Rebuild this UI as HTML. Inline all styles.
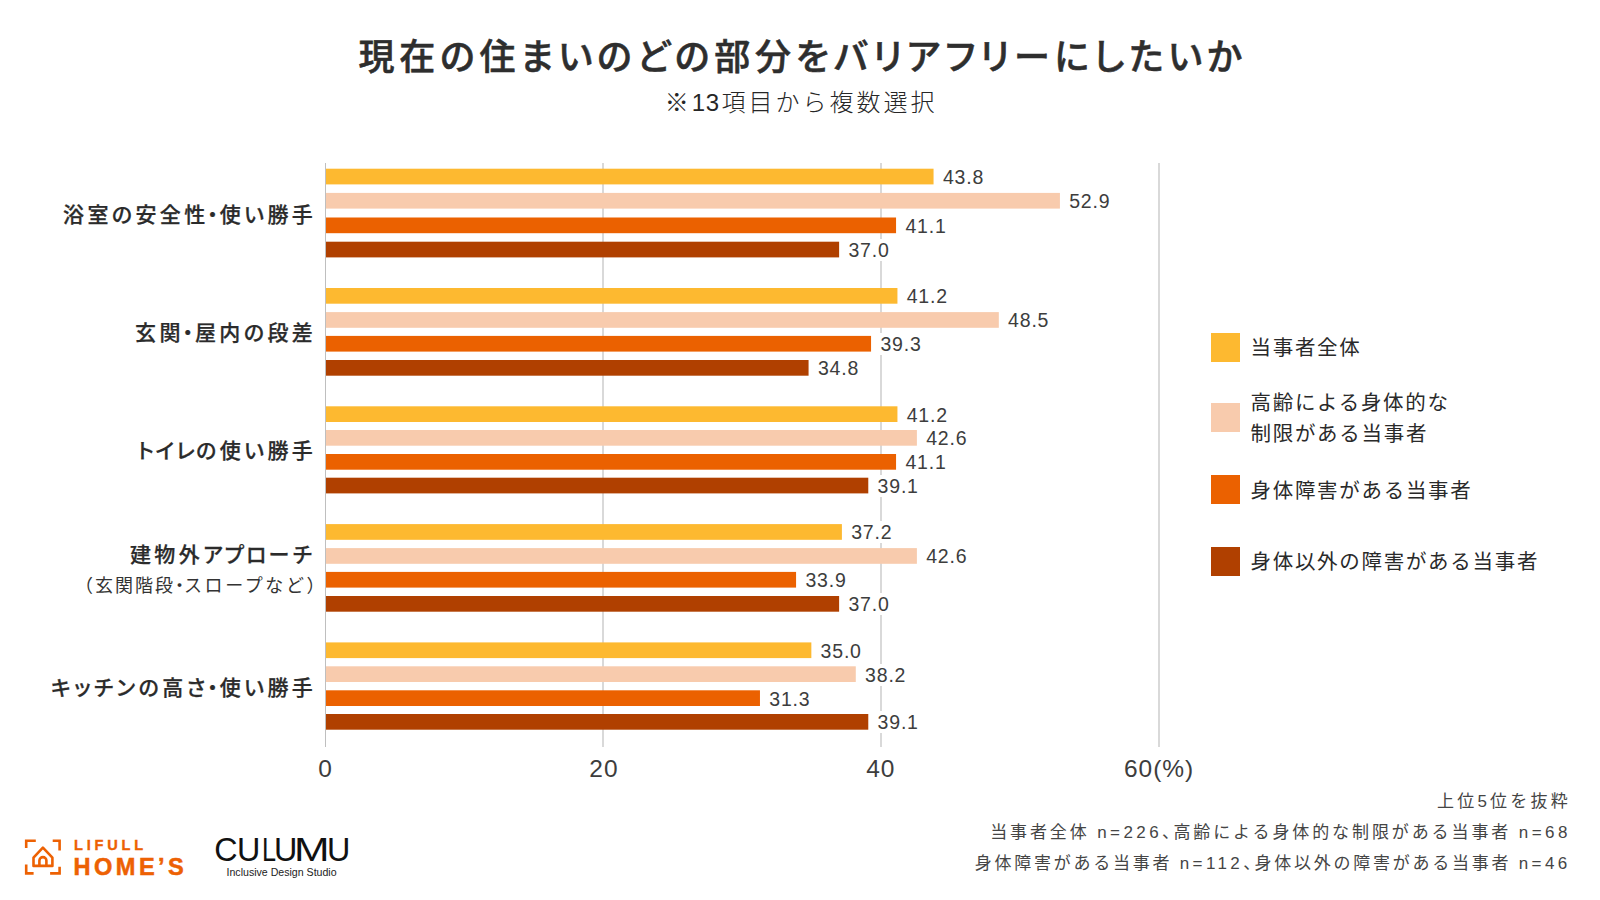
<!DOCTYPE html>
<html lang="ja">
<head>
<meta charset="utf-8">
<title>現在の住まいのどの部分をバリアフリーにしたいか</title>
<style>
html,body{margin:0;padding:0;background:#fff;}
body{width:1600px;height:900px;position:relative;overflow:hidden;color:#333;
 font-family:"Liberation Sans","Noto Sans CJK JP",sans-serif;}
.abs{position:absolute;white-space:nowrap;}
#title{left:2.6px;width:1600px;top:32px;text-align:center;font-size:36px;font-weight:500;color:#2e2e2e;-webkit-text-stroke:0.55px #2e2e2e;letter-spacing:4.78px;line-height:52px;font-feature-settings:"palt";}
#subtitle{left:1.2px;width:1600px;top:86px;text-align:center;font-size:24px;font-weight:300;color:#262626;letter-spacing:3.0px;line-height:34px;}
.grid{position:absolute;top:163px;height:584px;width:2px;background:#d6d6d6;}
.bar{position:absolute;height:15.7px;left:326px;}
.val{position:absolute;height:22px;line-height:22px;font-size:19.5px;font-weight:300;color:#3d3d3d;background:#fff;padding:0 4px 0 0;letter-spacing:0.8px;white-space:nowrap;}
.cat{position:absolute;right:1283.8px;text-align:right;font-size:21px;font-weight:500;color:#2b2b2b;-webkit-text-stroke:0.25px #2b2b2b;letter-spacing:3.4px;line-height:30px;white-space:nowrap;font-feature-settings:"palt";}
.sub{position:absolute;right:1273.5px;text-align:right;font-size:18px;font-weight:400;letter-spacing:2px;line-height:26px;white-space:nowrap;}
.cat .d{margin-left:-1.3px;letter-spacing:1.9px;}
.sub .d{display:inline-block;width:0.5em;text-indent:-0.25em;}
.note .c{margin-right:-0.5em;}
.note .l{letter-spacing:3.4px;}
.tick{position:absolute;top:753px;font-size:24.5px;font-weight:300;color:#3d3d3d;letter-spacing:1px;padding-left:1px;line-height:32px;width:120px;text-align:center;white-space:nowrap;}
#culumu span{position:absolute;top:0;transform-origin:0 50%;}
.sw{position:absolute;left:1211px;width:29px;height:29px;}
.lg{position:absolute;left:1250.5px;font-size:20.5px;font-weight:400;color:#2a2a2a;letter-spacing:1.7px;line-height:31.3px;white-space:nowrap;}
.note{position:absolute;right:29.4px;text-align:right;font-size:17px;font-weight:400;color:#454545;letter-spacing:2.75px;line-height:30px;white-space:nowrap;}
</style>
</head>
<body>
<div id="title" class="abs">現在の住まいのどの部分をバリアフリーにしたいか</div>
<div id="subtitle" class="abs">※<span style="letter-spacing:0.5px;margin-right:2px">13</span>項目から複数選択</div>

<svg class="abs" style="left:0;top:0" width="1600" height="900" viewBox="0 0 1600 900">
<rect x="602" y="163" width="2" height="584" fill="#d9d9d9"/>
<rect x="880" y="163" width="2" height="584" fill="#d9d9d9"/>
<rect x="1158" y="163" width="2" height="584" fill="#d9d9d9"/>
<rect x="325.6" y="168.70" width="607.95" height="15.7" fill="#FDB930"/>
<rect x="325.6" y="192.90" width="734.32" height="15.7" fill="#F8CBAD"/>
<rect x="325.6" y="217.50" width="570.46" height="15.7" fill="#EB6100"/>
<rect x="325.6" y="241.70" width="513.52" height="15.7" fill="#B04000"/>
<rect x="325.6" y="288.00" width="571.84" height="15.7" fill="#FDB930"/>
<rect x="325.6" y="312.10" width="673.22" height="15.7" fill="#F8CBAD"/>
<rect x="325.6" y="335.90" width="545.46" height="15.7" fill="#EB6100"/>
<rect x="325.6" y="360.00" width="482.97" height="15.7" fill="#B04000"/>
<rect x="325.6" y="406.30" width="571.84" height="15.7" fill="#FDB930"/>
<rect x="325.6" y="430.00" width="591.29" height="15.7" fill="#F8CBAD"/>
<rect x="325.6" y="454.00" width="570.46" height="15.7" fill="#EB6100"/>
<rect x="325.6" y="477.70" width="542.68" height="15.7" fill="#B04000"/>
<rect x="325.6" y="524.10" width="516.30" height="15.7" fill="#FDB930"/>
<rect x="325.6" y="548.10" width="591.29" height="15.7" fill="#F8CBAD"/>
<rect x="325.6" y="571.90" width="470.47" height="15.7" fill="#EB6100"/>
<rect x="325.6" y="596.00" width="513.52" height="15.7" fill="#B04000"/>
<rect x="325.6" y="642.40" width="485.75" height="15.7" fill="#FDB930"/>
<rect x="325.6" y="666.30" width="530.18" height="15.7" fill="#F8CBAD"/>
<rect x="325.6" y="690.30" width="434.36" height="15.7" fill="#EB6100"/>
<rect x="325.6" y="714.00" width="542.68" height="15.7" fill="#B04000"/>
<rect x="325" y="163" width="1" height="584" fill="#bfbfbf"/>
</svg>
<div class="val" style="top:165.95px;left:940.9px;padding-left:2px">43.8</div>
<div class="val" style="top:190.15px;left:1067.2px;padding-left:2px">52.9</div>
<div class="val" style="top:214.75px;left:903.4px;padding-left:2px">41.1</div>
<div class="val" style="top:238.95px;left:846.4px;padding-left:2px">37.0</div>
<div class="cat" style="top:199.5px">浴室の安全性<span class="d">・</span>使い勝手</div>
<div class="val" style="top:285.25px;left:904.7px;padding-left:2px">41.2</div>
<div class="val" style="top:309.35px;left:1006.1px;padding-left:2px">48.5</div>
<div class="val" style="top:333.15px;left:878.4px;padding-left:2px">39.3</div>
<div class="val" style="top:357.25px;left:815.9px;padding-left:2px">34.8</div>
<div class="cat" style="top:318.4px">玄関<span class="d">・</span>屋内の段差</div>
<div class="val" style="top:403.55px;left:904.7px;padding-left:2px">41.2</div>
<div class="val" style="top:427.25px;left:924.2px;padding-left:2px">42.6</div>
<div class="val" style="top:451.25px;left:903.4px;padding-left:2px">41.1</div>
<div class="val" style="top:474.95px;left:875.6px;padding-left:2px">39.1</div>
<div class="cat" style="top:436.4px"><span style="letter-spacing:1.5px">ト</span><span style="letter-spacing:2.3px">イ</span><span style="letter-spacing:1.4px">レ</span>の使い勝手</div>
<div class="val" style="top:521.35px;left:849.2px;padding-left:2px">37.2</div>
<div class="val" style="top:545.35px;left:924.2px;padding-left:2px">42.6</div>
<div class="val" style="top:569.15px;left:803.4px;padding-left:2px">33.9</div>
<div class="val" style="top:593.25px;left:846.4px;padding-left:2px">37.0</div>
<div class="cat" style="top:539.9px;margin-right:1px">建物外<span style="letter-spacing:2px">アプロ</span>ーチ</div>
<div class="sub" style="top:572.9px">（玄関階段<span class="d">・</span><span style="letter-spacing:2.6px">スロープなど</span>）</div>
<div class="val" style="top:639.65px;left:818.6px;padding-left:2px">35.0</div>
<div class="val" style="top:663.55px;left:863.1px;padding-left:2px">38.2</div>
<div class="val" style="top:687.55px;left:767.3px;padding-left:2px">31.3</div>
<div class="val" style="top:711.25px;left:875.6px;padding-left:2px">39.1</div>
<div class="cat" style="top:672.6px">キッチンの高さ<span class="d">・</span>使い勝手</div>
<div class="tick" style="left:264.5px">0</div>
<div class="tick" style="left:543.0px">20</div>
<div class="tick" style="left:819.8px">40</div>
<div class="tick" style="left:1098.1px">60(%)</div>
<div class="sw" style="top:333px;background:#FDB930"></div>
<div class="lg" style="top:332.4px">当事者全体</div>
<div class="sw" style="top:403.3px;background:#F8CBAD"></div>
<div class="lg" style="top:387.0px">高齢による身体的な<br>制限がある当事者</div>
<div class="sw" style="top:475.3px;background:#EB6100"></div>
<div class="lg" style="top:474.7px">身体障害がある当事者</div>
<div class="sw" style="top:547px;background:#B04000"></div>
<div class="lg" style="top:546.4px">身体以外の障害がある当事者</div>
<div class="note" style="top:786.7px;letter-spacing:3.25px;margin-right:-0.50px">上位5位を抜粋</div>
<div class="note" style="top:818.4px;letter-spacing:2.9px;margin-right:-0.15px">当事者全体 <span class="l">n=226</span><span class="c">、</span>高齢による身体的な制限がある当事者 <span class="l">n=68</span></div>
<div class="note" style="top:848.5px;letter-spacing:2.75px;margin-right:0.00px">身体障害がある当事者 <span class="l">n=112</span><span class="c">、</span>身体以外の障害がある当事者 <span class="l">n=46</span></div>
<svg class="abs" style="left:20px;top:834px" width="180" height="48" viewBox="20 834 180 48">
<g fill="none" stroke="#ED6103" stroke-width="2.6" stroke-linecap="butt" stroke-linejoin="miter">
<path d="M26.2 848.1V840.7H35.8"/>
<path d="M52.7 840.7H59.6V850.6"/>
<path d="M59.6 866.8V873.4H50.1"/>
<path d="M33.6 873.4H26.2V864.4"/>
<path d="M33.5 857.6L42.9 847.6L52.4 857.6V865.9H33.5Z" stroke-linejoin="round"/>
<path d="M39.4 865.9V860.6A3.5 3.5 0 0 1 46.4 860.6V865.9"/>
</g>
<text x="74" y="850" font-family="Liberation Sans, sans-serif" font-weight="700" font-size="14.6" letter-spacing="3.8" fill="#ED6103" stroke="#ED6103" stroke-width="0.35">LIFULL</text>
<text x="73.5" y="874.5" font-family="Liberation Sans, sans-serif" font-weight="700" font-size="23.6" letter-spacing="3.45" fill="#ED6103" stroke="#ED6103" stroke-width="0.5">HOME’S</text>
</svg>
<div class="abs" id="culumu" style="left:0;top:831.2px;width:400px;height:38px;font-size:32.3px;line-height:38px;color:#111;font-weight:400"><span style="left:214.2px">C</span><span style="left:236.9px">U</span><span style="left:262.2px;transform:scaleX(0.78)">L</span><span style="left:273.9px">U</span><span style="left:293.9px;transform:scaleX(1.32)">M</span><span style="left:326.9px">U</span></div>
<div class="abs" id="ids" style="left:226.5px;top:864px;font-size:10.6px;line-height:16px;color:#222;font-weight:400">Inclusive Design Studio</div>

</body>
</html>
